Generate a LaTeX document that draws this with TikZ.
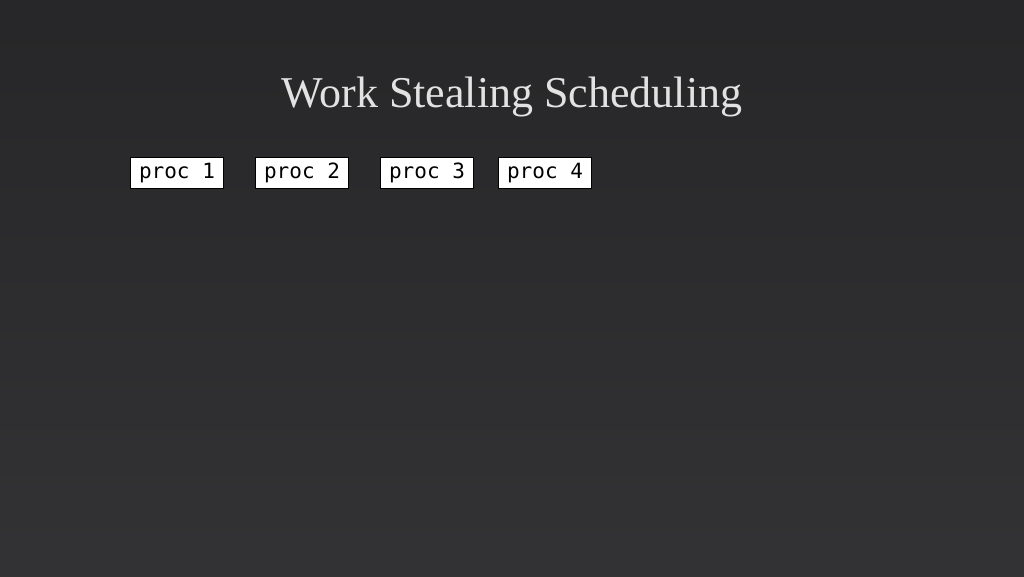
\documentclass[tikz,border=0pt]{standalone}
\usepackage{fontspec}
\setmainfont{Liberation Serif}
\setmonofont{DejaVu Sans Mono}
\usetikzlibrary{positioning}
\definecolor{slatecolor}{RGB}{42, 42, 44}
\definecolor{titlecolor}{RGB}{226, 226, 226}
\tikzset{
	proc/.style={
		rectangle,
		draw=black,
		line width=1pt,
		fill=white,
		text=black,
		font=\ttfamily\fontsize{21}{24}\selectfont,
		minimum width=93pt,
		minimum height=31pt,
		inner sep=0pt
	},
	heading/.style={
		text=titlecolor,
		font=\fontsize{44}{50}\selectfont,
		anchor=base
	},
}

\begin{document}
\begin{tikzpicture}[x=1pt,y=1pt,node distance=31pt]
				\fill [top color=slatecolor!92!black, bottom color=slatecolor!96!white] (0,0) rectangle (1024,576);
				\useasboundingbox (0,0) rectangle (1024,576);
				\node [heading] (title) at (512,468) {Work Stealing Scheduling};
				\node [proc] (p1) at (177,403) {proc 1};
				\node [proc] (p2) [right = of p1] {proc 2};
				\node [proc] (p3) [right = of p2] {proc 3};
				\node [proc] (p4) [right = 24pt of p3] {proc 4};
				\end{tikzpicture}
\end{document}
